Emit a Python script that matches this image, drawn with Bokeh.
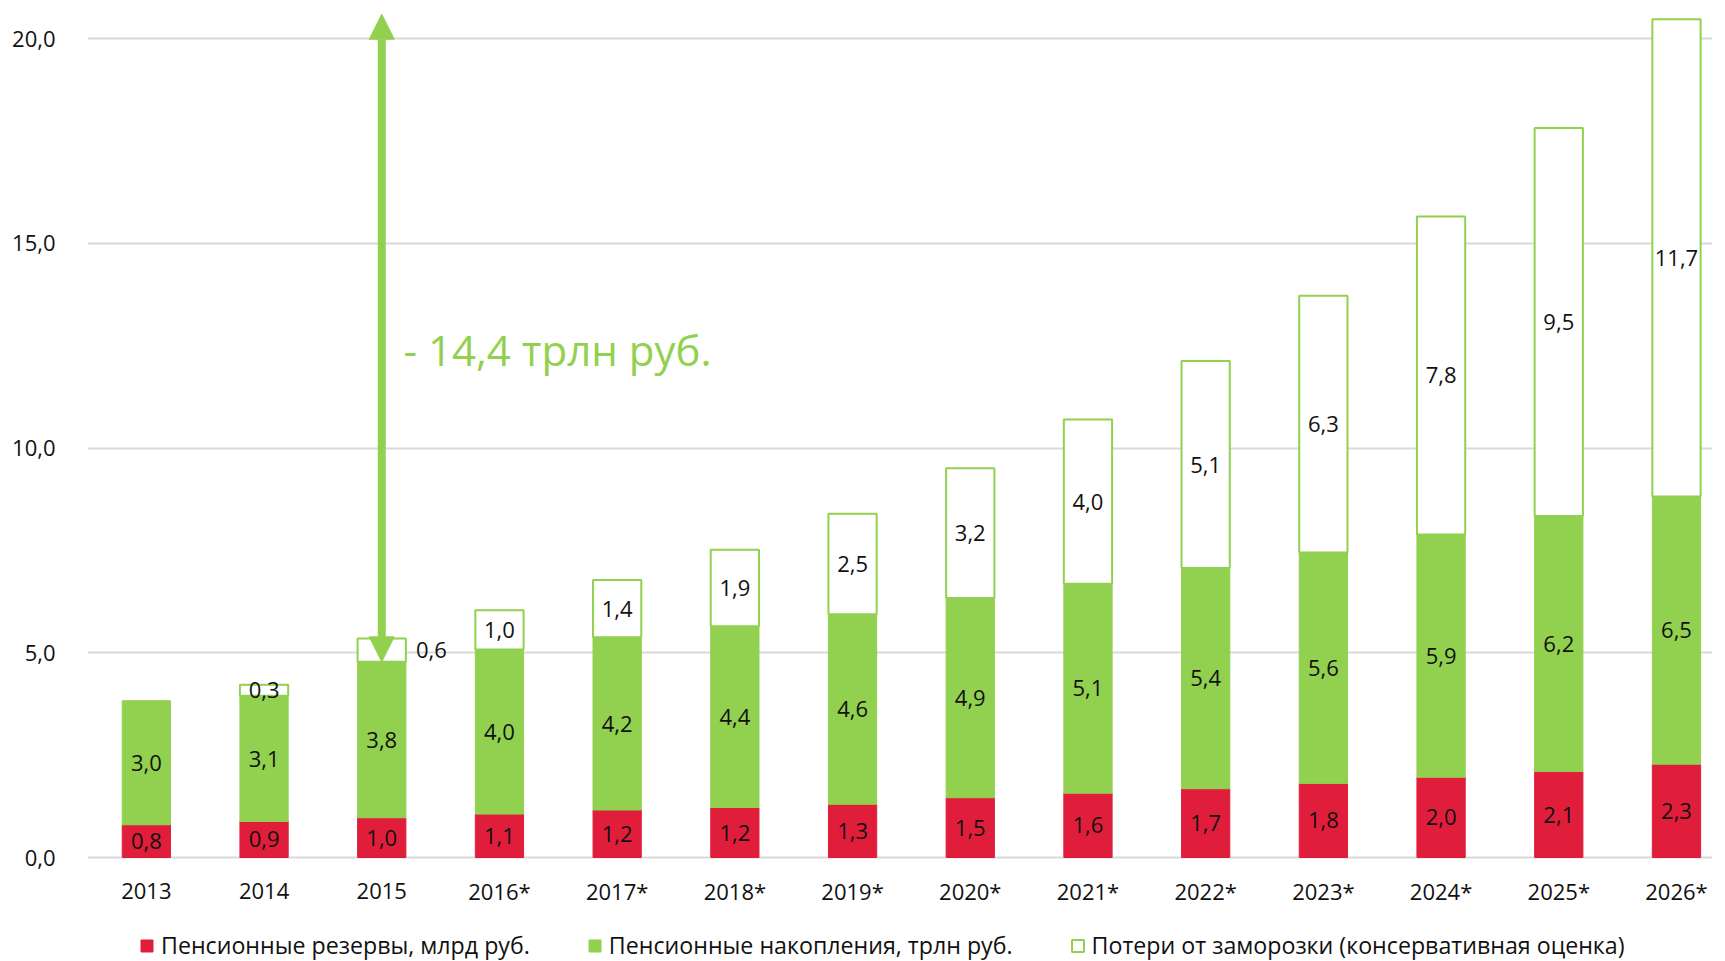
from bokeh.plotting import figure
from bokeh.models import (ColumnDataSource, Range1d, FixedTicker, Legend, LegendItem,
                          Arrow, NormalHead, Label)
from bokeh.core.properties import value
from bokeh.embed import file_html
from bokeh.resources import INLINE

# ---------------- data ----------------
years = ["2013", "2014", "2015", "2016*", "2017*", "2018*", "2019*", "2020*",
         "2021*", "2022*", "2023*", "2024*", "2025*", "2026*"]
reserves = [0.80, 0.88, 0.97, 1.06, 1.16, 1.22, 1.30, 1.46, 1.57, 1.68, 1.81, 1.96, 2.10, 2.28]
savings = [3.02, 3.07, 3.81, 4.02, 4.22, 4.43, 4.64, 4.88, 5.12, 5.39, 5.64, 5.93, 6.24, 6.54]
losses = [0.0, 0.27, 0.57, 0.96, 1.40, 1.87, 2.46, 3.17, 4.01, 5.06, 6.27, 7.77, 9.48, 11.66]
series_names = ["Пенсионные резервы, млрд руб.",
                "Пенсионные накопления, трлн руб.",
                "Потери от заморозки (консервативная оценка)"]
y_ticks = [0, 5, 10, 15, 20]
arrow_year = "2015"
arrow_top = 20.6
annotation_text = "- 14,4 трлн руб."

FONT = "Open Sans"
RED = "#E01E3C"
GREEN = "#92D050"
GRID = "#D9D9D9"
TXT = "#111111"


def fmt(v):
    return f"{v:.1f}".replace(".", ",")


# layout: the plotting frame also holds the category labels and legend below y=0
Y_TOP = 20.74
PLOT_PX = 849          # pixels from y=0 up to Y_TOP
FRAME_H = 953
y_start = -(FRAME_H - PLOT_PX) * Y_TOP / PLOT_PX

idx = list(range(len(years)))
src = ColumnDataSource(dict(x=idx, reserves=reserves, savings=savings, losses=losses))

p = figure(frame_width=1625, frame_height=FRAME_H,
           x_range=Range1d(-0.5, 13.306), y_range=Range1d(y_start, Y_TOP),
           output_backend="svg", toolbar_location=None, x_axis_location=None,
           min_border_left=87, min_border_right=0, min_border_top=8, min_border_bottom=0)
p.outline_line_color = None
p.background_fill_color = "white"

# grid (the line at 0 acts as the category axis line)
p.xgrid.grid_line_color = None
p.ygrid.ticker = FixedTicker(ticks=y_ticks)
p.ygrid.grid_line_color = GRID
p.ygrid.grid_line_width = 2

# bars
rs = p.vbar_stack(["reserves", "savings", "losses"], x="x", width=0.41, source=src,
                  fill_color=[RED, GREEN, "white"],
                  line_color=[RED, GREEN, GREEN],
                  line_width=[1, 1, 2])

# category labels under the zero line
p.text(x=idx, y=[0] * len(idx), text=years, y_offset=33,
       text_align="center", text_baseline="middle",
       text_font=value(FONT), text_font_size="22px", text_color=TXT)

# y axis
p.yaxis.ticker = FixedTicker(ticks=y_ticks)
p.yaxis.major_label_overrides = {t: fmt(t) for t in y_ticks}
p.yaxis.axis_line_color = None
p.yaxis.major_tick_line_color = None
p.yaxis.minor_tick_line_color = None
p.yaxis.major_tick_out = 0
p.yaxis.major_label_standoff = 32
p.yaxis.major_label_text_font = FONT
p.yaxis.major_label_text_font_size = "22px"
p.yaxis.major_label_text_color = TXT

# value labels
arrow_i = years.index(arrow_year)
lx, ly, lt = [], [], []
ox, oy, ot = [], [], []
for i in idx:
    r, s, l = reserves[i], savings[i], losses[i]
    lx += [i, i]
    ly += [r / 2, r + s / 2]
    lt += [fmt(r), fmt(s)]
    if l > 0:
        if i == arrow_i:
            ox.append(i + 0.205)
            oy.append(r + s + l / 2)
            ot.append(fmt(l))
        else:
            lx.append(i)
            ly.append(r + s + l / 2)
            lt.append(fmt(l))

p.text(x=lx, y=ly, text=lt, text_align="center", text_baseline="middle",
       text_font=value(FONT), text_font_size="22px", text_color=TXT)
p.text(x=ox, y=oy, text=ot, text_align="left", text_baseline="middle", x_offset=10,
       text_font=value(FONT), text_font_size="22px", text_color=TXT)

# arrow + annotation
arrow_bottom = reserves[arrow_i] + savings[arrow_i]
p.add_layout(Arrow(start=NormalHead(size=25, fill_color=GREEN, line_color=GREEN),
                   end=NormalHead(size=25, fill_color=GREEN, line_color=GREEN),
                   x_start=arrow_i, y_start=arrow_bottom, x_end=arrow_i, y_end=arrow_top,
                   line_color=GREEN, line_width=8))
p.add_layout(Label(x=arrow_i + 0.185, y=12.4, text=annotation_text,
                   text_align="left", text_baseline="middle",
                   text_font=FONT, text_font_size="42px", text_color=GREEN))

# legend (inside the frame, under the category labels)
legend = Legend(items=[LegendItem(label=n, renderers=[r]) for n, r in zip(series_names, rs)],
                orientation="horizontal", location=(52, 0),
                label_text_font=FONT, label_text_font_size="23.2px", label_text_color=TXT,
                glyph_width=15, glyph_height=15, label_standoff=7, spacing=57,
                padding=0, margin=0, border_line_color=None, background_fill_alpha=0)
p.add_layout(legend, "center")

open("out.html", "w").write(file_html(p, INLINE))
